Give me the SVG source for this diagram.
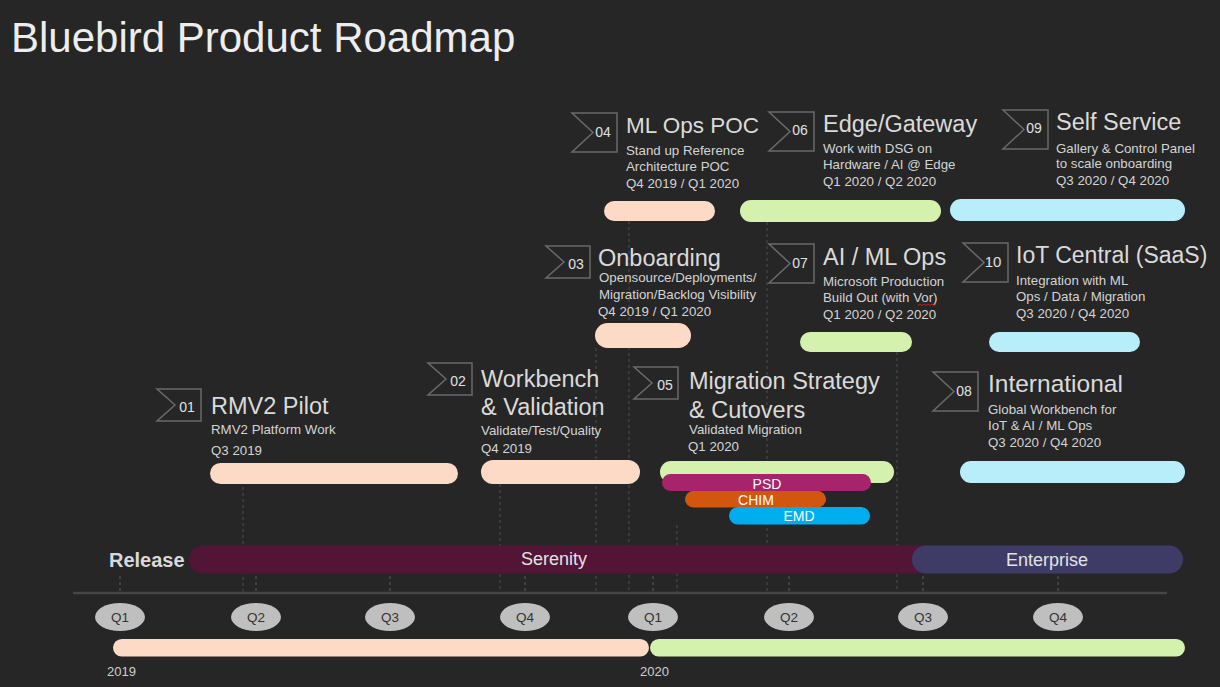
<svg xmlns="http://www.w3.org/2000/svg" width="1220" height="687" viewBox="0 0 1220 687">
  <style>
    text { font-family: "Liberation Sans", Arial, sans-serif; }
    .page-title { font-size: 42px; fill: #EDEDED; }
    .title { font-size: 23.5px; fill: #DADADA; }
    .sub { font-size: 13.3px; fill: #D4D4D4; }
    .num { font-size: 14px; fill: #E0E0E0; text-anchor: middle; }
    .chev { fill: none; stroke: #6A6A6A; stroke-width: 1.5; }
    .peach { fill: #FCDAC5; }
    .green { fill: #D5F1AE; }
    .cyan { fill: #B8EEF9; }
    .drop { stroke: #4C4C4C; stroke-width: 1; stroke-dasharray: 3 3; fill: none; }
    .tick { stroke: #5A5A5A; stroke-width: 1; stroke-dasharray: 3 3; fill: none; }
    .team { font-size: 14px; fill: #FFFFFF; text-anchor: middle; }
    .qpill { fill: #BFBFBF; }
    .qtext { font-size: 13.5px; fill: #333333; text-anchor: middle; }
    .year { font-size: 13px; fill: #CFCFCF; }
    .rel { font-size: 18px; fill: #E2E2E2; text-anchor: middle; }
  </style>
  <defs>
    <!-- notched flag outline used for item numbers -->
    <path id="flagS" d="M0,0 H44 V32 H0 L18,16 Z"/>
    <path id="flagL" d="M0,0 H45 V39 H0 L21,19.5 Z"/>
  </defs>

  <rect x="0" y="0" width="1220" height="687" fill="#262626"/>

  <text class="page-title" x="11" y="52">Bluebird Product Roadmap</text>

  <!-- drop lines and quarter ticks -->
  <g id="connectors">
    <line class="drop" x1="243" y1="487" x2="243" y2="593"/>
    <line class="drop" x1="500" y1="484" x2="500" y2="593"/>
    <line class="drop" x1="596" y1="348" x2="596" y2="593"/>
    <line class="drop" x1="629" y1="221" x2="629" y2="593"/>
    <line class="drop" x1="677" y1="525" x2="677" y2="593"/>
    <line class="drop" x1="767" y1="222" x2="767" y2="593"/>
    <line class="drop" x1="897" y1="352" x2="897" y2="593"/>
    <line class="tick" x1="120" y1="576" x2="120" y2="593"/>
    <line class="tick" x1="256" y1="576" x2="256" y2="593"/>
    <line class="tick" x1="390" y1="576" x2="390" y2="593"/>
    <line class="tick" x1="525" y1="576" x2="525" y2="593"/>
    <line class="tick" x1="653" y1="576" x2="653" y2="593"/>
    <line class="tick" x1="789" y1="576" x2="789" y2="593"/>
    <line class="tick" x1="923" y1="576" x2="923" y2="593"/>
    <line class="tick" x1="1058" y1="576" x2="1058" y2="593"/>
  </g>

  <!-- 01 -->
  <g id="item-01">
    <use href="#flagS" class="chev" x="157" y="389"/>
    <text class="num" x="187" y="412">01</text>
    <text class="title" x="211" y="414">RMV2 Pilot</text>
    <text class="sub" x="211" y="434">RMV2 Platform Work</text>
    <text class="sub" x="211" y="455">Q3 2019</text>
    <rect class="peach" x="210" y="463" width="248" height="21" rx="10.5"/>
  </g>

  <!-- 02 -->
  <g id="item-02">
    <use href="#flagS" class="chev" x="428" y="363"/>
    <text class="num" x="458" y="386">02</text>
    <text class="title" x="481" y="387">Workbench</text>
    <text class="title" x="481" y="415">&amp; Validation</text>
    <text class="sub" x="481" y="435">Validate/Test/Quality</text>
    <text class="sub" x="481" y="453">Q4 2019</text>
    <rect class="peach" x="481" y="460" width="159" height="24" rx="12"/>
  </g>

  <!-- 03 -->
  <g id="item-03">
    <use href="#flagS" class="chev" x="546" y="246"/>
    <text class="num" x="576" y="269">03</text>
    <text class="title" x="598" y="266">Onboarding</text>
    <text class="sub" x="599" y="282">Opensource/Deployments/</text>
    <text class="sub" x="599" y="299">Migration/Backlog Visibility</text>
    <text class="sub" x="598" y="316">Q4 2019 / Q1 2020</text>
    <rect class="peach" x="595" y="323" width="96" height="25" rx="12.5"/>
  </g>

  <!-- 04 -->
  <g id="item-04">
    <use href="#flagL" class="chev" x="572" y="113"/>
    <text class="num" x="603" y="137">04</text>
    <text class="title" x="626" y="133" style="font-size:22.5px">ML Ops POC</text>
    <text class="sub" x="626" y="155">Stand up Reference</text>
    <text class="sub" x="626" y="171">Architecture POC</text>
    <text class="sub" x="626" y="188">Q4 2019 / Q1 2020</text>
    <rect class="peach" x="604" y="201" width="111" height="20" rx="10"/>
  </g>

  <!-- 05 -->
  <g id="item-05">
    <use href="#flagS" class="chev" x="634" y="367"/>
    <text class="num" x="665" y="390">05</text>
    <text class="title" x="689" y="389">Migration Strategy</text>
    <text class="title" x="689" y="418">&amp; Cutovers</text>
    <text class="sub" x="689" y="434">Validated Migration</text>
    <text class="sub" x="688" y="451">Q1 2020</text>
    <rect class="green" x="660" y="461" width="234" height="22" rx="11"/>
    <rect x="662" y="474" width="209" height="17" rx="8.5" fill="#A7246C"/>
    <text class="team" x="767" y="488.5">PSD</text>
    <rect x="685" y="491" width="141" height="16.5" rx="8.25" fill="#D3560F"/>
    <text class="team" x="756" y="505">CHIM</text>
    <rect x="729" y="507" width="141" height="17.5" rx="8.75" fill="#00AEEF"/>
    <text class="team" x="799" y="521">EMD</text>
  </g>

  <!-- 06 -->
  <g id="item-06">
    <use href="#flagL" class="chev" x="769" y="112"/>
    <text class="num" x="800" y="135">06</text>
    <text class="title" x="823" y="132">Edge/Gateway</text>
    <text class="sub" x="823" y="153">Work with DSG on</text>
    <text class="sub" x="823" y="169">Hardware / AI @ Edge</text>
    <text class="sub" x="823" y="186">Q1 2020 / Q2 2020</text>
    <rect class="green" x="740" y="200" width="201" height="22" rx="11"/>
  </g>

  <!-- 07 -->
  <g id="item-07">
    <use href="#flagL" class="chev" x="769" y="244"/>
    <text class="num" x="800" y="268">07</text>
    <text class="title" x="823" y="265">AI / ML Ops</text>
    <text class="sub" x="823" y="286">Microsoft Production</text>
    <text class="sub" x="823" y="302">Build Out (with Vor)</text>
    <path d="M918,305.5 l2,-1.5 l2,1.5 l2,-1.5 l2,1.5 l2,-1.5 l2,1.5 l2,-1.5 l2,1.5 l2,-1.5" fill="none" stroke="#E02020" stroke-width="0.8"/>
    <text class="sub" x="823" y="319">Q1 2020 / Q2 2020</text>
    <rect class="green" x="800" y="332" width="112" height="20" rx="10"/>
  </g>

  <!-- 08 -->
  <g id="item-08">
    <use href="#flagL" class="chev" x="933" y="372"/>
    <text class="num" x="964" y="396">08</text>
    <text class="title" x="988" y="392" style="font-size:24.5px">International</text>
    <text class="sub" x="988" y="414">Global Workbench for</text>
    <text class="sub" x="988" y="430">IoT &amp; AI / ML Ops</text>
    <text class="sub" x="988" y="447">Q3 2020 / Q4 2020</text>
    <rect class="cyan" x="960" y="461" width="225" height="22" rx="11"/>
  </g>

  <!-- 09 -->
  <g id="item-09">
    <use href="#flagL" class="chev" x="1003" y="110"/>
    <text class="num" x="1034" y="133">09</text>
    <text class="title" x="1056" y="130">Self Service</text>
    <text class="sub" x="1056" y="153">Gallery &amp; Control Panel</text>
    <text class="sub" x="1056" y="168">to scale onboarding</text>
    <text class="sub" x="1056" y="185">Q3 2020 / Q4 2020</text>
    <rect class="cyan" x="950" y="199" width="235" height="22" rx="11"/>
  </g>

  <!-- 10 -->
  <g id="item-10">
    <use href="#flagL" class="chev" x="963" y="243"/>
    <text class="num" x="993" y="267" style="font-size:15px">10</text>
    <text class="title" x="1016" y="263" style="font-size:23px">IoT Central (SaaS)</text>
    <text class="sub" x="1016" y="285">Integration with ML</text>
    <text class="sub" x="1016" y="301">Ops / Data / Migration</text>
    <text class="sub" x="1016" y="318">Q3 2020 / Q4 2020</text>
    <rect class="cyan" x="989" y="332" width="151" height="20" rx="10"/>
  </g>

  <!-- release track -->
  <g id="releases">
    <text x="109" y="567" style="font-size:20px;font-weight:bold;fill:#D9D9D9">Release</text>
    <rect x="189" y="545.5" width="748" height="28" rx="14" fill="#521536"/>
    <text class="rel" x="554" y="565">Serenity</text>
    <rect x="912" y="545.5" width="271" height="28" rx="14" fill="#3E3C66"/>
    <text class="rel" x="1047" y="566">Enterprise</text>
  </g>

  <!-- time axis -->
  <g id="axis">
    <line x1="73" y1="593" x2="1167" y2="593" stroke="#464646" stroke-width="2.5"/>
    <ellipse class="qpill" cx="120" cy="617" rx="25" ry="14"/>
    <text class="qtext" x="120" y="622">Q1</text>
    <ellipse class="qpill" cx="256" cy="617" rx="25" ry="14"/>
    <text class="qtext" x="256" y="622">Q2</text>
    <ellipse class="qpill" cx="390" cy="617" rx="25" ry="14"/>
    <text class="qtext" x="390" y="622">Q3</text>
    <ellipse class="qpill" cx="525" cy="617" rx="25" ry="14"/>
    <text class="qtext" x="525" y="622">Q4</text>
    <ellipse class="qpill" cx="653" cy="617" rx="25" ry="14"/>
    <text class="qtext" x="653" y="622">Q1</text>
    <ellipse class="qpill" cx="789" cy="617" rx="25" ry="14"/>
    <text class="qtext" x="789" y="622">Q2</text>
    <ellipse class="qpill" cx="923" cy="617" rx="25" ry="14"/>
    <text class="qtext" x="923" y="622">Q3</text>
    <ellipse class="qpill" cx="1058" cy="617" rx="25" ry="14"/>
    <text class="qtext" x="1058" y="622">Q4</text>
  </g>

  <!-- years -->
  <g id="years">
    <rect class="peach" x="113" y="639" width="536" height="17.5" rx="8.75"/>
    <rect class="green" x="650" y="639" width="535" height="17.5" rx="8.75"/>
    <text class="year" x="107" y="676">2019</text>
    <text class="year" x="640" y="676">2020</text>
  </g>
</svg>
